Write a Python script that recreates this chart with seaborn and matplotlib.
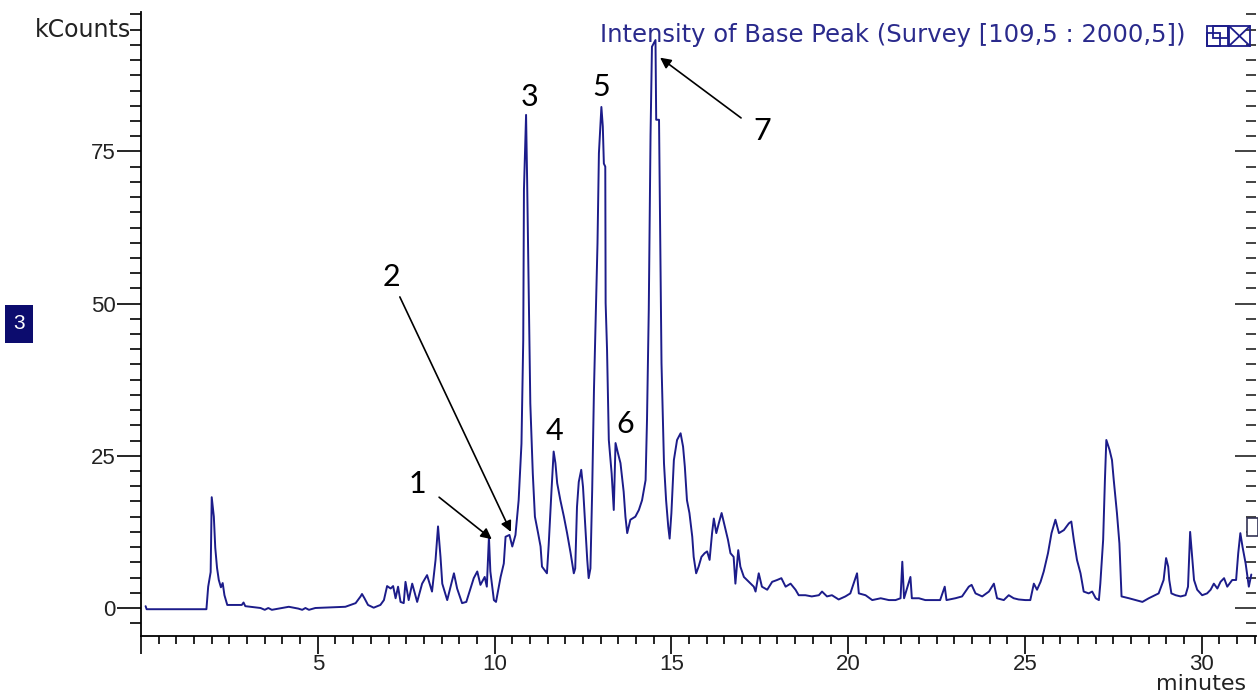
import matplotlib
matplotlib.use("Agg")
import matplotlib.pyplot as plt
from matplotlib.patches import Rectangle
from matplotlib.lines import Line2D
from matplotlib.ticker import MultipleLocator
import seaborn as sns
import pandas as pd

# Base peak chromatogram (retention time in minutes, intensity in kCounts)
time_min = [
    0.13, 0.16, 1.85, 1.90, 1.97, 2.00, 2.06, 2.10, 2.15, 2.20, 2.26, 2.31, 2.36, 2.44,
    2.85, 2.90, 2.95, 3.38, 3.50, 3.60, 3.70, 4.18, 4.45, 4.56, 4.65, 4.75, 4.93, 5.78,
    6.07, 6.21, 6.25, 6.32, 6.42, 6.58, 6.77, 6.87, 6.96, 7.06, 7.13, 7.20, 7.27, 7.34,
    7.43, 7.48, 7.57, 7.67, 7.81, 7.95, 8.09, 8.23, 8.33, 8.40, 8.47, 8.52, 8.66, 8.85,
    8.94, 9.08, 9.20, 9.41, 9.51, 9.60, 9.72, 9.78, 9.84, 9.88, 9.98, 10.04, 10.17, 10.26,
    10.31, 10.42, 10.50, 10.59, 10.68, 10.76, 10.81, 10.83, 10.89, 10.92, 10.97, 11.01,
    11.08, 11.14, 11.23, 11.30, 11.34, 11.48, 11.53, 11.61, 11.67, 11.72, 11.77, 11.86,
    11.96, 12.05, 12.15, 12.24, 12.28, 12.33, 12.38, 12.45, 12.50, 12.55, 12.62, 12.66,
    12.71, 12.76, 12.81, 12.87, 12.91, 12.95, 13.02, 13.06, 13.09, 13.13, 13.14, 13.18,
    13.23, 13.31, 13.37, 13.42, 13.49, 13.56, 13.65, 13.70, 13.75, 13.84, 13.98, 14.08,
    14.17, 14.27, 14.31, 14.36, 14.41, 14.45, 14.55, 14.57, 14.65, 14.69, 14.72, 14.79,
    14.85, 14.91, 14.95, 15.00, 15.07, 15.16, 15.26, 15.33, 15.38, 15.44, 15.51, 15.59,
    15.63, 15.70, 15.77, 15.85, 15.94, 16.01, 16.08, 16.15, 16.20, 16.27, 16.34, 16.42,
    16.51, 16.60, 16.67, 16.76, 16.81, 16.89, 16.95, 17.05, 17.19, 17.33, 17.38, 17.47,
    17.56, 17.71, 17.85, 17.99, 18.11, 18.23, 18.37, 18.51, 18.60, 18.79, 18.97, 19.17,
    19.26, 19.40, 19.54, 19.73, 19.92, 20.06, 20.25, 20.30, 20.49, 20.68, 20.92, 21.15,
    21.34, 21.48, 21.53, 21.58, 21.76, 21.80, 22.00, 22.18, 22.37, 22.60, 22.73, 22.78,
    23.03, 23.22, 23.41, 23.49, 23.60, 23.79, 23.98, 24.12, 24.21, 24.40, 24.54, 24.68,
    24.82, 25.01, 25.15, 25.25, 25.34, 25.44, 25.53, 25.65, 25.75, 25.86, 25.96, 26.10,
    26.24, 26.31, 26.38, 26.47, 26.57, 26.66, 26.80, 26.90, 27.00, 27.09, 27.13, 27.21,
    27.26, 27.30, 27.39, 27.46, 27.51, 27.60, 27.67, 27.73, 27.94, 28.13, 28.32, 28.50,
    28.78, 28.92, 28.99, 29.05, 29.08, 29.14, 29.26, 29.40, 29.54, 29.61, 29.67, 29.72,
    29.78, 29.87, 30.01, 30.15, 30.25, 30.34, 30.44, 30.53, 30.63, 30.72, 30.86, 30.97,
    31.03, 31.09, 31.15, 31.24, 31.33, 31.40,
]
kcounts = [
    0.3, -0.2, -0.2, 3.5, 5.9, 18.2, 15.0, 9.9, 6.6, 4.6, 3.4, 4.1, 2.1, 0.5,
    0.5, 0.9, 0.3, 0.0, -0.3, 0.0, -0.3, 0.2, -0.1, -0.3, 0.0, -0.3, 0.0, 0.2,
    0.8, 1.9, 2.3, 1.6, 0.5, 0.05, 0.5, 1.3, 3.6, 3.2, 3.6, 1.6, 3.5, 1.0,
    0.8, 4.3, 1.3, 4.0, 1.0, 4.0, 5.4, 2.7, 7.9, 13.4, 8.4, 4.0, 1.3, 5.7,
    3.2, 0.8, 1.0, 4.9, 6.0, 3.8, 5.1, 3.5, 11.7, 6.0, 1.3, 1.0, 5.1, 7.3,
    11.7, 12.0, 10.1, 12.0, 17.7, 27.0, 44.0, 68.7, 81.0, 70.3, 50.1, 33.6,
    22.1, 15.0, 12.3, 10.1, 6.8, 5.7, 10.4, 19.4, 25.7, 23.8, 20.5, 17.7,
    15.0, 12.3, 9.0, 5.7, 6.5, 16.6, 20.7, 22.7, 19.9, 15.0, 7.9, 4.9,
    6.5, 19.4, 35.8, 50.6, 59.9, 74.7, 82.3, 79.1, 73.0, 72.5, 50.1, 42.4,
    27.6, 22.1, 16.1, 27.1, 25.4, 23.8, 19.1, 15.0, 12.3, 14.5, 15.0, 16.1,
    17.7, 21.0, 30.9, 49.0, 77.7, 92.2, 93.3, 80.2, 80.2, 58.0, 40.2, 23.8,
    17.7, 13.4, 11.4, 15.6, 24.3, 27.6, 28.7, 26.5, 23.2, 17.7, 15.6, 11.7,
    8.4, 5.7, 6.8, 8.4, 9.0, 9.3, 7.9, 12.3, 14.7, 12.3, 13.9, 15.6,
    13.4, 11.2, 9.0, 8.4, 4.0, 9.5, 6.8, 5.1, 4.3, 3.5, 2.7, 5.7,
    3.5, 3.0, 4.3, 4.6, 4.9, 3.5, 4.0, 3.0, 2.1, 2.1, 1.9, 2.1,
    2.7, 1.9, 2.1, 1.4, 1.9, 2.4, 5.7, 2.4, 2.1, 1.3, 1.6, 1.3,
    1.3, 1.6, 7.6, 1.6, 5.1, 1.6, 1.6, 1.3, 1.3, 1.3, 3.5, 1.3,
    1.6, 1.9, 3.5, 3.8, 2.4, 1.9, 2.7, 4.0, 1.6, 1.3, 2.1, 1.6,
    1.4, 1.3, 1.3, 4.0, 3.0, 4.3, 6.0, 9.0, 12.3, 14.5, 12.3, 12.8,
    13.9, 14.2, 11.2, 7.9, 5.7, 2.7, 2.4, 2.7, 1.6, 1.3, 4.0, 11.2,
    21.0, 27.6, 26.0, 24.3, 21.0, 15.6, 10.6, 1.9, 1.6, 1.3, 1.0, 1.6,
    2.4, 4.6, 8.2, 6.8, 4.6, 2.4, 2.1, 1.9, 2.1, 3.5, 12.5, 9.0,
    4.6, 3.0, 2.1, 2.4, 3.0, 4.0, 3.2, 4.3, 4.9, 3.5, 4.6, 4.6,
    9.0, 12.3, 10.1, 7.3, 3.5, 5.5,
]

# Numbered peaks: label text, label position, optional arrow tail -> tip
peak_ids = ["1", "2", "3", "4", "5", "6", "7"]
label_t = [7.81, 7.07, 11.0, 11.68, 13.01, 13.69, 17.56]
label_k = [20.4, 54.4, 83.9, 29.1, 85.6, 30.2, 78.4]
arrow_tail = {"1": (8.43, 18.2), "2": (7.32, 51.1), "7": (16.97, 80.5)}
arrow_tip = {"1": (9.92, 11.3), "2": (10.46, 12.5), "7": (14.68, 90.4)}

x_major = [0, 5, 10, 15, 20, 25, 30]
x_labels = ["", "5", "10", "15", "20", "25", "30"]
y_major = [0, 25, 50, 75]

TRACE = "#1c1c8a"
INK = "#222222"
CAPTION_FONT = ["DejaVu Sans"]

sns.set_style("white")
plt.rcParams["font.family"] = ["Liberation Sans", "DejaVu Sans"]

W, H = 1258, 693
fig = plt.figure(figsize=(W / 100, H / 100), dpi=100)
ax = fig.add_axes([141 / W, 1 - 636 / H, (1256 - 141) / W, (636 - 12) / H])

df = pd.DataFrame({"minutes": time_min, "kCounts": kcounts})
sns.lineplot(data=df, x="minutes", y="kCounts", ax=ax, color=TRACE,
             linewidth=1.4, estimator=None, sort=False)

ax.set_xlim(0, (1256 - 141) / 35.36)
ax.set_ylim(-4.6, 97.9)
ax.set_xlabel("")
ax.set_ylabel("")

for side in ("top", "right"):
    ax.spines[side].set_visible(False)
for side in ("left", "bottom"):
    ax.spines[side].set_color("black")
    ax.spines[side].set_linewidth(1.3)

ax.set_xticks(x_major)
ax.set_xticklabels(x_labels)
ax.xaxis.set_minor_locator(MultipleLocator(0.5))
ax.set_yticks(y_major)
ax.set_yticklabels([str(v) for v in y_major])
ax.yaxis.set_minor_locator(MultipleLocator(2.5))

ax.tick_params(axis="both", which="both", direction="out", color="black",
               width=1.2, labelsize=16, labelcolor=INK,
               left=True, bottom=True, right=False, top=False)
ax.tick_params(axis="y", which="major", length=17, pad=1)
ax.tick_params(axis="y", which="minor", length=8)
ax.tick_params(axis="x", which="major", length=13, pad=0)
ax.tick_params(axis="x", which="minor", length=6)

# inward ticks along the right edge
sec = ax.secondary_yaxis("right")
sec.set_yticks(y_major)
sec.yaxis.set_minor_locator(MultipleLocator(2.5))
sec.tick_params(axis="y", which="both", direction="in", labelright=False,
                right=True, color="#222222", width=1.2)
sec.tick_params(axis="y", which="major", length=15)
sec.tick_params(axis="y", which="minor", length=7)
sec.spines["right"].set_visible(False)

# axis captions
ax.text(-10 / 35.36, 95, "kCounts", ha="right", va="center", fontsize=17,
        family=CAPTION_FONT, color=INK, clip_on=False)
fig.text(1246 / W, 1 - 690 / H, "minutes", ha="right", va="baseline",
         fontsize=16, family=CAPTION_FONT, color=INK)
fig.text(1185 / W, 1 - 35 / H, "Intensity of Base Peak (Survey [109,5 : 2000,5])",
         ha="right", va="center", fontsize=17.5, family=CAPTION_FONT,
         color="#2a2a8c")

# peak numbers and arrows
for pid, tx, ky in zip(peak_ids, label_t, label_k):
    ax.text(tx, ky, pid, ha="center", va="center", fontsize=22,
            family=["Lato", "DejaVu Sans"], color="black")
    if pid in arrow_tail:
        ax.annotate("", xy=arrow_tip[pid], xytext=arrow_tail[pid],
                    arrowprops=dict(arrowstyle="-|>", color="black", lw=1.2,
                                    mutation_scale=16, shrinkA=0, shrinkB=0))

# trace index badge
fig.patches.append(Rectangle((5 / W, 1 - 343 / H), 28 / W, 38 / H,
                             transform=fig.transFigure, facecolor="#0c0c6e",
                             edgecolor="none"))
fig.text(19 / W, 1 - 324 / H, "3", ha="center", va="center", fontsize=15,
         color="white")

# window buttons
icon_c = "#1c1c8a"
def px_rect(x0, y0, x1, y1, **kw):
    fig.patches.append(Rectangle((x0 / W, 1 - y1 / H), (x1 - x0) / W, (y1 - y0) / H,
                                 transform=fig.transFigure, fill=False,
                                 edgecolor=icon_c, linewidth=1.3, **kw))
px_rect(1207, 26, 1228, 46)
px_rect(1213, 26, 1228, 38)
px_rect(1207, 33, 1220, 46)
px_rect(1229, 26, 1250, 46)
for (a, b, c, d) in [(1229, 26, 1250, 46), (1229, 46, 1250, 26)]:
    fig.lines.append(Line2D([a / W, c / W], [1 - b / H, 1 - d / H],
                            transform=fig.transFigure, color=icon_c, lw=1.3))

# cursor marker on the right edge
fig.patches.append(Rectangle((1247 / W, 1 - 536 / H), 11 / W, 18 / H,
                             transform=fig.transFigure, facecolor="white",
                             edgecolor="#333355", linewidth=1.2))

fig.savefig("out.png", dpi=100, facecolor="white")
